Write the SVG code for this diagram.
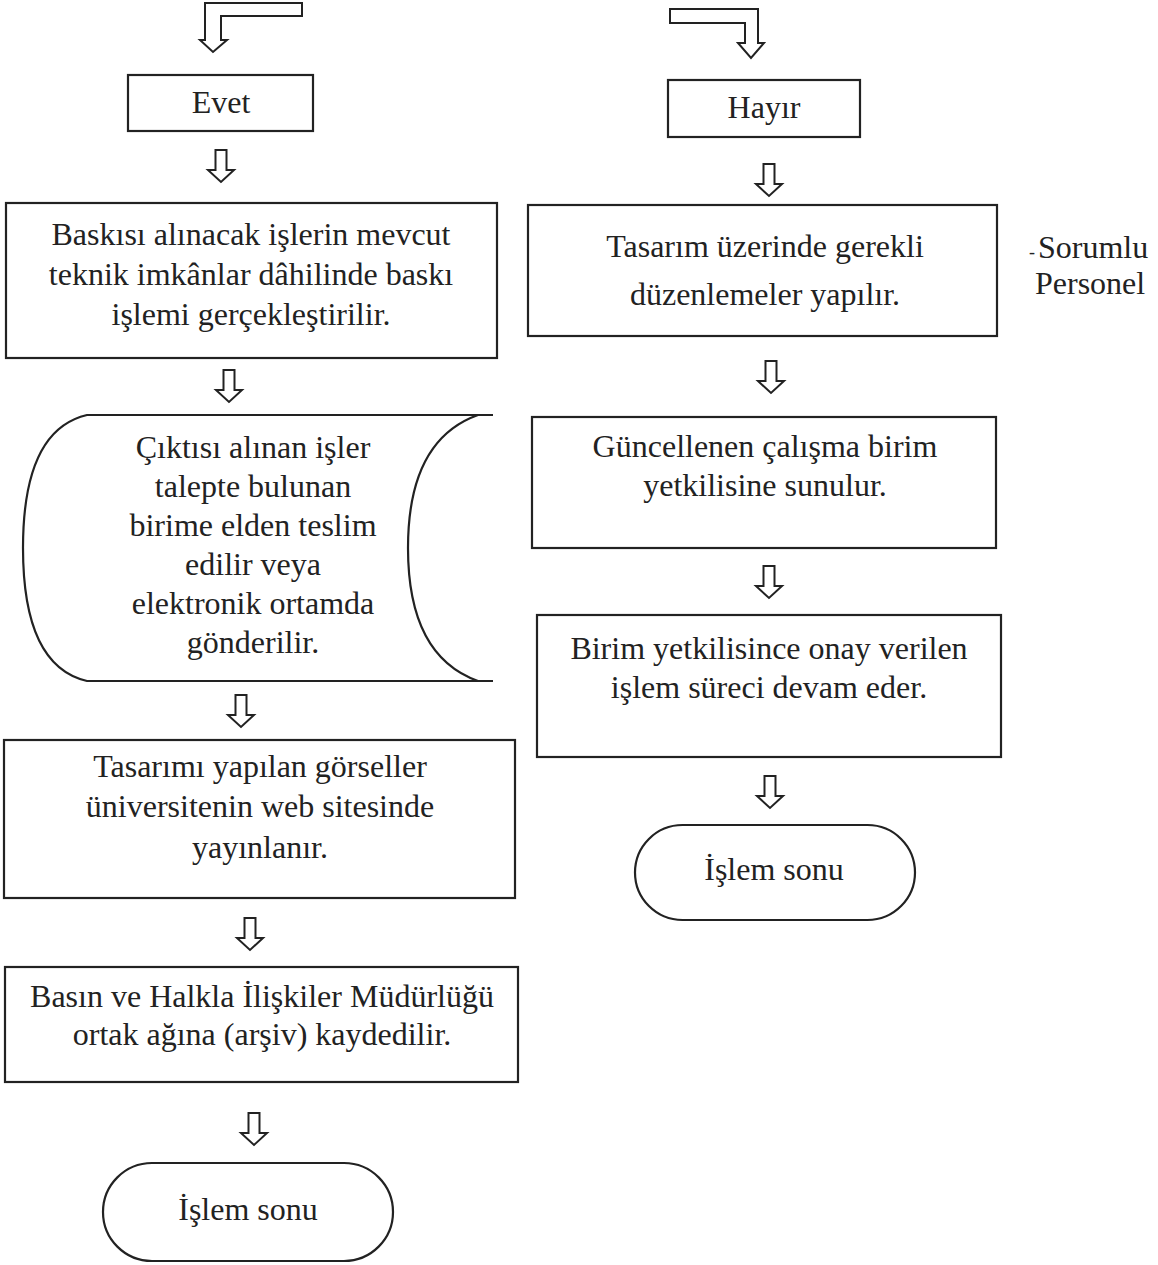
<svg xmlns="http://www.w3.org/2000/svg" xmlns:xlink="http://www.w3.org/1999/xlink" width="1158" height="1265" viewBox="0 0 1158 1265">
<style>
.box{fill:#fff;stroke:#222;stroke-width:2.2}
.arr{fill:#fff;stroke:#222;stroke-width:2;stroke-linejoin:miter}
text{font-family:"Liberation Serif","Times New Roman",serif;font-size:32px;fill:#222;text-anchor:middle}
.side{text-anchor:start}
</style>
<defs>
<path id="dn" class="arr" d="M-5.5,0 L5.5,0 L5.5,20 L13,20 L0,32 L-13,20 L-5.5,20 Z"/>
</defs>
<rect width="1158" height="1265" fill="#fff"/>
<g id="connectors">
<path class="arr" d="M302,3 L205,3 L205,40 L200,40 L213,52 L227,40 L221,40 L221,16 L302,16 Z"/>
<path class="arr" d="M670,9 L758,9 L758,43 L764,43 L751,58 L738,43 L745,43 L745,23 L670,23 Z"/>
<use xlink:href="#dn" x="221" y="150"/>
<use xlink:href="#dn" x="229" y="370"/>
<use xlink:href="#dn" x="241" y="695"/>
<use xlink:href="#dn" x="250" y="918"/>
<use xlink:href="#dn" x="254" y="1113"/>
<use xlink:href="#dn" x="769" y="164"/>
<use xlink:href="#dn" x="771" y="361"/>
<use xlink:href="#dn" x="769" y="566"/>
<use xlink:href="#dn" x="770" y="776"/>
</g>
<g id="evet">
<rect class="box" x="128" y="75" width="185" height="56"/>
<text x="221" y="113">Evet</text>
</g>
<g id="hayir">
<rect class="box" x="668" y="80" width="192" height="57"/>
<text x="764" y="118">Hayır</text>
</g>
<g id="baski">
<rect class="box" x="6" y="203" width="491" height="155"/>
<text x="251" y="245">Baskısı alınacak işlerin mevcut</text>
<text x="251" y="285">teknik imkânlar dâhilinde baskı</text>
<text x="251" y="325">işlemi gerçekleştirilir.</text>
</g>
<g id="tasarim-duzenleme">
<rect class="box" x="528" y="205" width="469" height="131"/>
<text x="765" y="257">Tasarım üzerinde gerekli</text>
<text x="765" y="305">düzenlemeler yapılır.</text>
</g>
<g id="sorumlu">
<text class="side" x="1029" y="258"><tspan font-size="18">-</tspan><tspan dx="3">Sorumlu</tspan></text>
<text class="side" x="1035" y="294">Personel</text>
</g>
<g id="cikti">
<path class="box" d="M493,415 L87,415 Q23,430 23,548 Q23,666 87,681 L493,681"/>
<path class="box" style="fill:none" d="M478,415 Q408,440 408,548 Q408,656 478,681"/>
<text x="253" y="458">Çıktısı alınan işler</text>
<text x="253" y="497">talepte bulunan</text>
<text x="253" y="536">birime elden teslim</text>
<text x="253" y="575">edilir veya</text>
<text x="253" y="614">elektronik ortamda</text>
<text x="253" y="653">gönderilir.</text>
</g>
<g id="guncellenen">
<rect class="box" x="532" y="417" width="464" height="131"/>
<text x="765" y="457">Güncellenen çalışma birim</text>
<text x="765" y="496">yetkilisine sunulur.</text>
</g>
<g id="onay">
<rect class="box" x="537" y="615" width="464" height="142"/>
<text x="769" y="659">Birim yetkilisince onay verilen</text>
<text x="769" y="698">işlem süreci devam eder.</text>
</g>
<g id="yayin">
<rect class="box" x="4" y="740" width="511" height="158"/>
<text x="260" y="777">Tasarımı yapılan görseller</text>
<text x="260" y="817">üniversitenin web sitesinde</text>
<text x="260" y="858">yayınlanır.</text>
</g>
<g id="son-sag">
<rect class="box" x="635" y="825" width="280" height="95" rx="47.5" ry="47.5"/>
<text x="774" y="880">İşlem sonu</text>
</g>
<g id="arsiv">
<rect class="box" x="5" y="967" width="513" height="115"/>
<text x="262" y="1007">Basın ve Halkla İlişkiler Müdürlüğü</text>
<text x="262" y="1045">ortak ağına (arşiv) kaydedilir.</text>
</g>
<g id="son-sol">
<rect class="box" x="103" y="1163" width="290" height="98" rx="49" ry="49"/>
<text x="248" y="1220">İşlem sonu</text>
</g>
</svg>
